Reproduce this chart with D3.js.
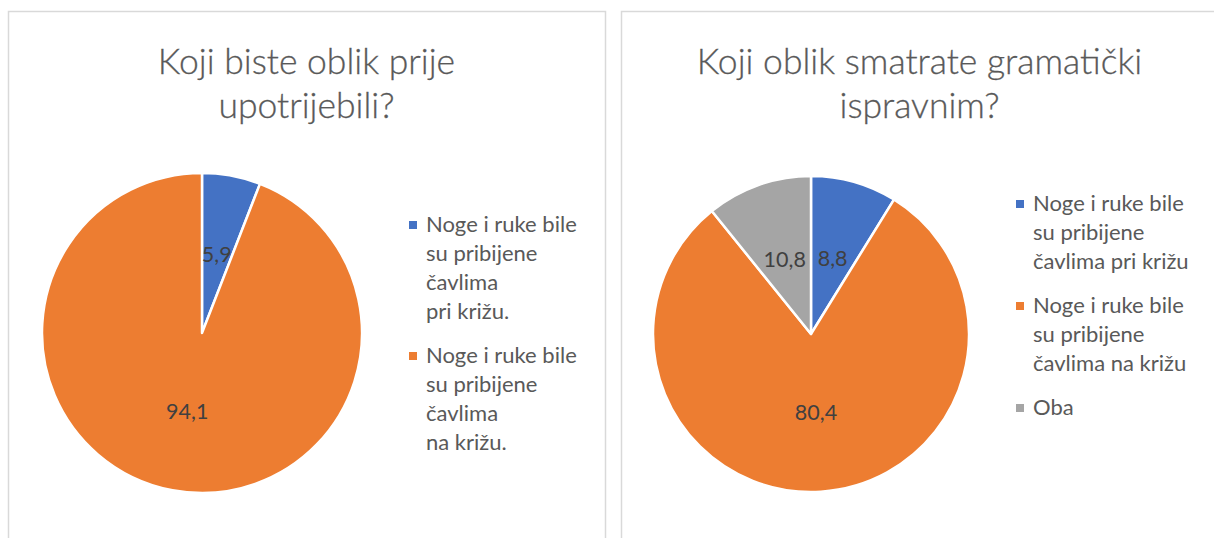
<!DOCTYPE html>
<html>
<head>
<meta charset="utf-8">
<script src="https://cdn.jsdelivr.net/npm/d3@7"></script>
<style>
  html, body { margin: 0; padding: 0; background: #fff; }
  svg { display: block; }
</style>
</head>
<body>
<svg id="chart" width="1214" height="538"></svg>
<script>
// ---- data ----
const colors = ["#4472C4", "#ED7D31", "#A5A5A5"];

const title1 = ["Koji biste oblik prije", "upotrijebili?"];
const values1 = [5.9, 94.1];
const labels1 = ["5,9", "94,1"];
const legend1 = [
  ["Noge i ruke bile", "su pribijene", "čavlima", "pri križu."],
  ["Noge i ruke bile", "su pribijene", "čavlima", "na križu."]
];

const title2 = ["Koji oblik smatrate gramatički", "ispravnim?"];
const values2 = [8.8, 80.4, 10.8];
const labels2 = ["8,8", "80,4", "10,8"];
const legend2 = [
  ["Noge i ruke bile", "su pribijene", "čavlima pri križu"],
  ["Noge i ruke bile", "su pribijene", "čavlima na križu"],
  ["Oba"]
];

// ---- layout ----
const svg = d3.select("#chart");
const FONT = "Lato, 'Open Sans', sans-serif";

function drawPanel(cfg) {
  const g = svg.append("g");

  // chart frame
  g.append("rect")
    .attr("x", cfg.x + 0.5).attr("y", 11.5)
    .attr("width", 597).attr("height", 600)
    .attr("fill", "#fff")
    .attr("stroke", "#D9D9D9").attr("stroke-width", 1.5);

  // title
  const cx = cfg.x + 298.5;
  cfg.title.forEach((t, i) => {
    g.append("text")
      .attr("x", cx).attr("y", 74 + i * 44)
      .attr("text-anchor", "middle")
      .attr("font-family", FONT).attr("font-weight", 300)
      .attr("font-size", 35.5).attr("fill", "#595959")
      .attr("stroke", "#595959").attr("stroke-width", 0.3)
      .text(t);
  });

  // pie
  const pie = d3.pie().sort(null).value(d => d);
  const arcs = pie(cfg.values);
  const arc = d3.arc().innerRadius(0).outerRadius(cfg.r);
  const labelArc = d3.arc().innerRadius(cfg.r * 0.5).outerRadius(cfg.r * 0.5);
  const pg = g.append("g").attr("transform", `translate(${cfg.pcx},${cfg.pcy})`);
  pg.selectAll("path").data(arcs).join("path")
    .attr("d", arc)
    .attr("fill", (d, i) => colors[i])
    .attr("stroke", "#fff").attr("stroke-width", 2.5)
    .attr("stroke-linejoin", "round");
  pg.selectAll("text").data(arcs).join("text")
    .attr("transform", d => `translate(${labelArc.centroid(d)})`)
    .attr("text-anchor", "middle").attr("dy", "0.35em")
    .attr("font-family", FONT).attr("font-size", 21.5)
    .attr("fill", "#404040")
    .text((d, i) => cfg.labels[i]);

  // legend
  let y = cfg.ly;
  cfg.legend.forEach((lines, i) => {
    g.append("rect")
      .attr("x", cfg.lx).attr("y", y - 11)
      .attr("width", 8).attr("height", 8)
      .attr("fill", colors[i]);
    lines.forEach((ln, j) => {
      g.append("text")
        .attr("x", cfg.lx + 17).attr("y", y + j * 29)
        .attr("font-family", FONT).attr("font-size", 22)
        .attr("fill", "#595959")
        .text(ln);
    });
    y += (lines.length - 1) * 29 + 44;
  });
}

drawPanel({ x: 8, title: title1, values: values1, labels: labels1, legend: legend1,
            pcx: 202, pcy: 333, r: 160, lx: 409, ly: 232 });
drawPanel({ x: 621, title: title2, values: values2, labels: labels2, legend: legend2,
            pcx: 811, pcy: 334, r: 158, lx: 1016, ly: 211 });
</script>
</body>
</html>
